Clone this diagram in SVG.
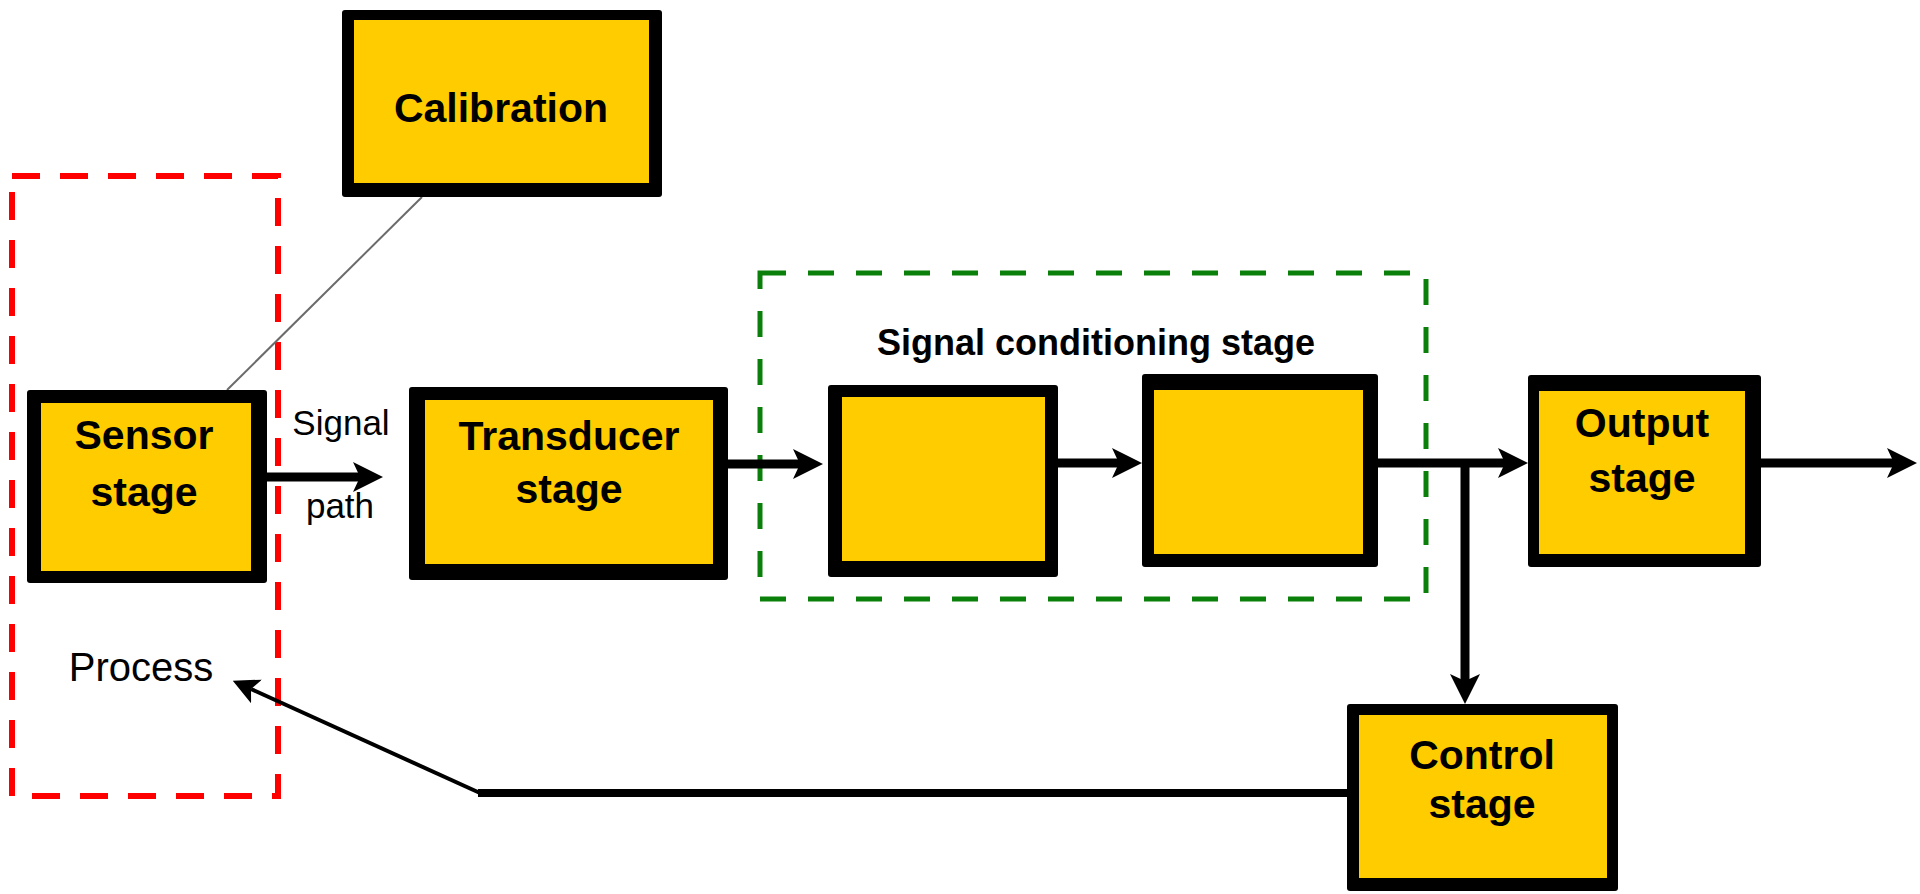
<svg xmlns="http://www.w3.org/2000/svg" width="1920" height="894" viewBox="0 0 1920 894">
<style>
.frame{fill:#000}
.fill{fill:#FFCC00}
.lbl{font-family:"Liberation Sans",Arial,sans-serif;font-weight:bold;font-size:41px;fill:#000;text-anchor:middle}
.plain{font-family:"Liberation Sans",Arial,sans-serif;font-size:35px;fill:#000;text-anchor:middle}
.wire{stroke:#000;fill:none;stroke-width:9}
</style>
<defs>
<marker id="ah" markerUnits="userSpaceOnUse" viewBox="0 0 30 30" refX="7" refY="15" markerWidth="30" markerHeight="30" orient="auto">
<path d="M0,0 L30,15 L0,30 L7,15 z" fill="#000"/>
</marker>
<marker id="ahs" markerUnits="userSpaceOnUse" viewBox="0 0 26 26" refX="6" refY="13" markerWidth="26" markerHeight="26" orient="auto">
<path d="M0,0 L26,13 L0,26 L6,13 z" fill="#000"/>
</marker>
</defs>
<rect width="1920" height="894" fill="#fff"/>

<g id="groups">
<rect id="process-boundary" x="12" y="176" width="266" height="620" fill="none" stroke="#FF0000" stroke-width="6" stroke-dasharray="28 20"/>
<rect id="signal-conditioning-boundary" x="760" y="273" width="666" height="326" fill="none" stroke="#0A800A" stroke-width="5" stroke-dasharray="26 22"/>
<text class="lbl" x="1096" y="355" style="font-size:36px">Signal conditioning stage</text>
</g>

<g id="connectors">
<line x1="422" y1="197" x2="227" y2="390" stroke="#6b6b6b" stroke-width="2"/>
<line class="wire" x1="267" y1="477" x2="360" y2="477" marker-end="url(#ah)"/>
<line class="wire" x1="728" y1="464" x2="800" y2="464" marker-end="url(#ah)"/>
<line class="wire" x1="1058" y1="463" x2="1119" y2="463" marker-end="url(#ah)"/>
<line class="wire" x1="1378" y1="463" x2="1505" y2="463" marker-end="url(#ah)"/>
<line class="wire" x1="1465" y1="463" x2="1465" y2="681" marker-end="url(#ah)"/>
<line class="wire" x1="1761" y1="463" x2="1894" y2="463" marker-end="url(#ah)"/>
<line x1="1347" y1="793" x2="478" y2="793" stroke="#000" stroke-width="8"/>
<line x1="480" y1="793" x2="251" y2="689" stroke="#000" stroke-width="4" marker-end="url(#ahs)"/>
<text class="plain" x="341" y="435">Signal</text>
<text class="plain" x="340" y="518">path</text>
</g>

<g id="calibration">
<rect class="frame" x="342" y="10" width="320" height="187" rx="3"/>
<rect class="fill" x="354" y="20" width="295" height="163"/>
<text class="lbl" x="501" y="122">Calibration</text>
</g>

<g id="sensor-stage">
<rect class="frame" x="27" y="390" width="240" height="193" rx="3"/>
<rect class="fill" x="41" y="403" width="210" height="168"/>
<text class="lbl" x="144" y="449">Sensor</text>
<text class="lbl" x="144" y="506">stage</text>
</g>

<g id="transducer-stage">
<rect class="frame" x="409" y="387" width="319" height="193" rx="3"/>
<rect class="fill" x="425" y="400" width="288" height="164"/>
<text class="lbl" x="569" y="450">Transducer</text>
<text class="lbl" x="569" y="503">stage</text>
</g>

<g id="conditioning-block-1">
<rect class="frame" x="828" y="385" width="230" height="192" rx="3"/>
<rect class="fill" x="842" y="397" width="203" height="164"/>
</g>

<g id="conditioning-block-2">
<rect class="frame" x="1142" y="374" width="236" height="193" rx="3"/>
<rect class="fill" x="1154" y="390" width="209" height="164"/>
</g>

<g id="output-stage">
<rect class="frame" x="1528" y="375" width="233" height="192" rx="3"/>
<rect class="fill" x="1539" y="391" width="206" height="163"/>
<text class="lbl" x="1642" y="437">Output</text>
<text class="lbl" x="1642" y="492">stage</text>
</g>

<g id="control-stage">
<rect class="frame" x="1347" y="704" width="271" height="187" rx="3"/>
<rect class="fill" x="1359" y="715" width="248" height="163"/>
<text class="lbl" x="1482" y="769">Control</text>
<text class="lbl" x="1482" y="818">stage</text>
</g>

<g id="process-label">
<text class="plain" x="141" y="681" style="font-size:40px">Process</text>
</g>
</svg>
